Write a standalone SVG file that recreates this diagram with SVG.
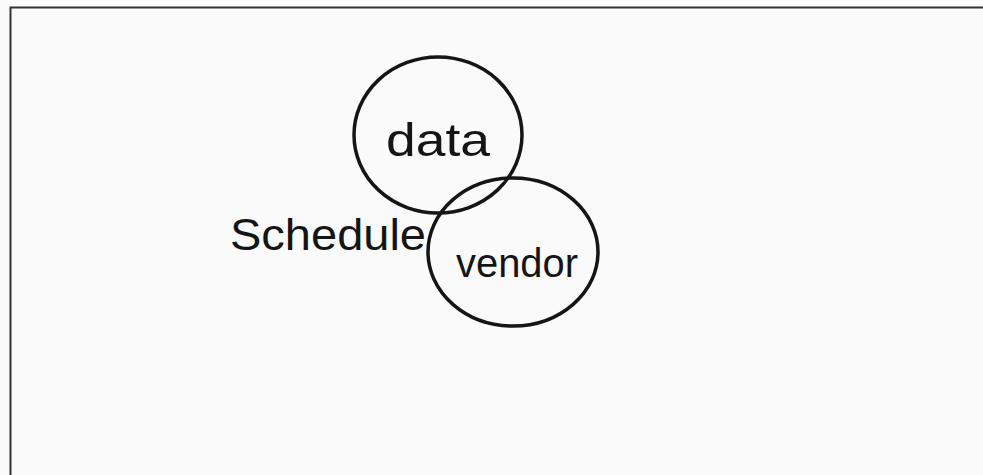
<svg xmlns="http://www.w3.org/2000/svg" width="983" height="475" viewBox="0 0 983 475">
<style>
.node{fill:none;stroke:#151515;stroke-width:3.5}
.lbl{font-family:"Liberation Sans",Arial,sans-serif;fill:#151515;text-anchor:middle}
</style>
<rect x="0" y="0" width="983" height="475" fill="#fafafa"/>
<path d="M10.5,475 V7.5 H983" fill="none" stroke="#333" stroke-width="2"/>
<g id="connectors"></g>
<g id="data">
<ellipse class="node" cx="438" cy="135" rx="84" ry="78"/>
<text class="lbl" x="438" y="156" font-size="46" textLength="104" lengthAdjust="spacingAndGlyphs">data</text>
</g>
<g id="vendor">
<ellipse class="node" cx="513" cy="252" rx="85" ry="74"/>
<text class="lbl" x="517" y="277" font-size="40" textLength="122" lengthAdjust="spacingAndGlyphs">vendor</text>
</g>
<g id="schedule">
<text class="lbl" x="328" y="250" font-size="44" textLength="196" lengthAdjust="spacingAndGlyphs">Schedule</text>
</g>
</svg>
